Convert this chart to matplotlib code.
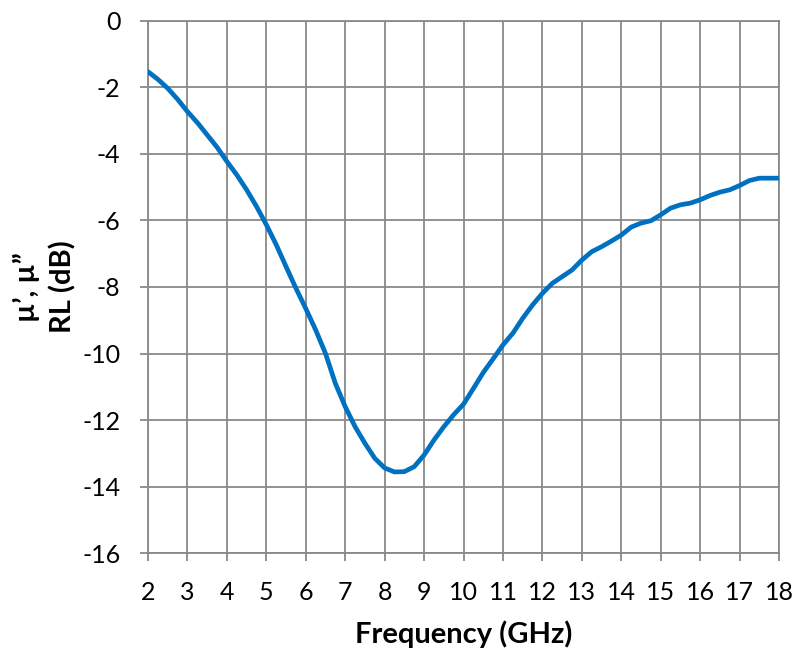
import numpy as np
import matplotlib.pyplot as plt

plt.rcParams['font.family'] = ['Lato', 'DejaVu Sans']
plt.rcParams['axes.unicode_minus'] = False

# return loss curve
freq = [2.0, 2.25, 2.5, 2.75, 3.0, 3.25, 3.5, 3.75, 4.0, 4.25, 4.5, 4.75, 5.0, 5.25,
        5.5, 5.75, 6.0, 6.25, 6.5, 6.75, 7.0, 7.25, 7.5, 7.75, 8.0, 8.25, 8.5, 8.75,
        9.0, 9.25, 9.5, 9.75, 10.0, 10.25, 10.5, 10.75, 11.0, 11.25, 11.5, 11.75,
        12.0, 12.25, 12.5, 12.75, 13.0, 13.25, 13.5, 13.75, 14.0, 14.25, 14.5, 14.75,
        15.0, 15.25, 15.5, 15.75, 16.0, 16.25, 16.5, 16.75, 17.0, 17.25, 17.5, 17.75,
        18.0]
rl = [-1.53, -1.76, -2.03, -2.36, -2.73, -3.06, -3.43, -3.8, -4.23, -4.63, -5.08, -5.58,
      -6.13, -6.73, -7.39, -8.04, -8.65, -9.29, -10.0, -10.9, -11.6, -12.2, -12.7, -13.15,
      -13.44, -13.56, -13.55, -13.4, -13.05, -12.6, -12.2, -11.84, -11.52, -11.05, -10.57,
      -10.16, -9.74, -9.39, -8.94, -8.54, -8.19, -7.89, -7.69, -7.49, -7.19, -6.94, -6.79,
      -6.62, -6.44, -6.2, -6.08, -6.01, -5.83, -5.63, -5.53, -5.48, -5.38, -5.25, -5.15,
      -5.08, -4.95, -4.8, -4.73, -4.73, -4.73]

xticks = list(range(2, 19))
yticks = list(range(-16, 1, 2))

grid_col = "#898989"
line_col = "#0070C0"

fig = plt.figure(figsize=(8.09, 6.5), dpi=100)
ax = fig.add_axes([0.183, 0.149, 0.780, 0.819])

ax.plot(freq, rl, color=line_col, linewidth=3.4, solid_capstyle="round", zorder=3)

ax.set_xlim(2, 18)
ax.set_ylim(-16, 0)
ax.set_xticks(xticks)
ax.set_yticks(yticks)
ax.grid(True, color=grid_col, linewidth=1.3)
for s in ax.spines.values():
    s.set_color(grid_col)
    s.set_linewidth(1.3)
ax.tick_params(axis="both", colors=grid_col, labelcolor="black", labelsize=18,
               length=6, width=1.3, direction="out")
ax.tick_params(axis="x", pad=14)
ax.tick_params(axis="y", pad=14)

ax.set_xlabel("Frequency (GHz)", fontsize=21, fontweight="bold", labelpad=12)
ax.set_ylabel("µ’, µ”\nRL (dB)", fontsize=21, fontweight="bold", linespacing=1.45)
ax.yaxis.set_label_coords(-0.113, 0.5)

fig.savefig("out.png", dpi=100)
